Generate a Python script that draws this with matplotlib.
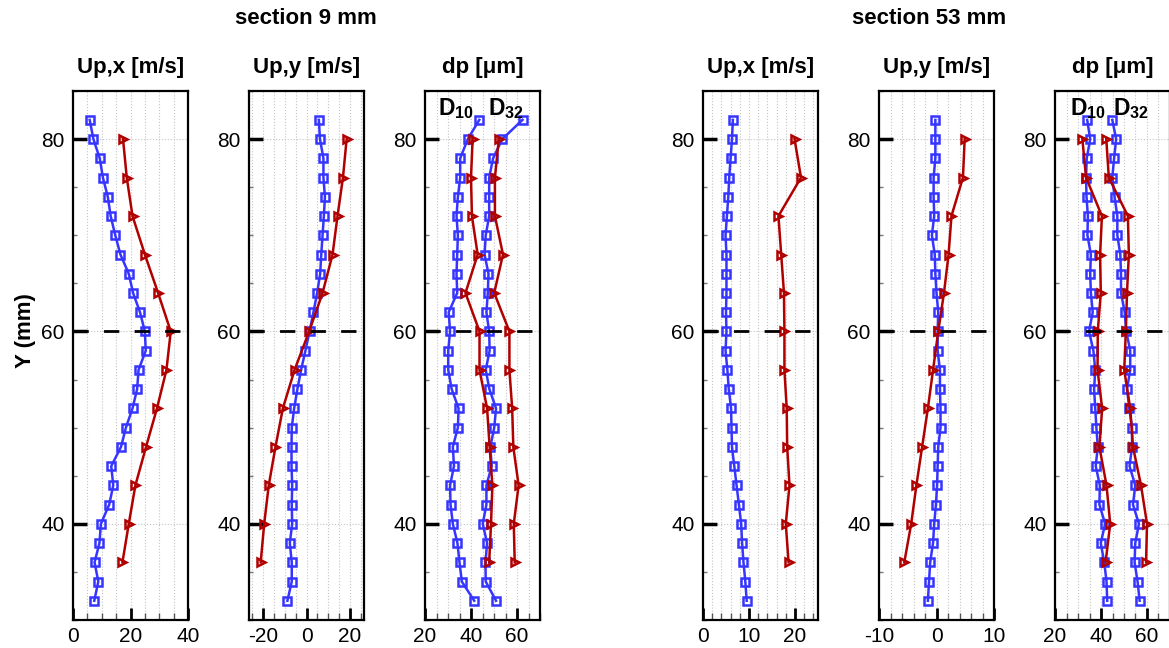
import numpy as np
import matplotlib.pyplot as plt
from matplotlib.ticker import MultipleLocator

plt.rcParams['font.family'] = ['Liberation Sans', 'DejaVu Sans']
plt.rcParams['mathtext.fontset'] = 'custom'
plt.rcParams['mathtext.rm'] = 'Liberation Sans'
plt.rcParams['mathtext.bf'] = 'Liberation Sans:bold'
plt.rcParams['axes.unicode_minus'] = False

# measurement heights (mm)
y_fine = [82, 80, 78, 76, 74, 72, 70, 68, 66, 64, 62, 60, 58,
          56, 54, 52, 50, 48, 46, 44, 42, 40, 38, 36, 34, 32]
y_coarse = [80, 76, 72, 68, 64, 60, 56, 52, 48, 44, 40, 36]

# section 9 mm
s9_upx_blue = [5.8, 7.1, 9.3, 10.4, 12.1, 13.1, 14.7, 16.5, 19.4, 20.9, 23.3, 25.0, 25.3,
               22.8, 22.3, 20.7, 18.4, 16.7, 13.3, 14.0, 12.6, 9.7, 9.2, 7.5, 8.8, 7.4]
s9_upx_red = [17.4, 18.7, 20.7, 25.0, 29.6, 34.0, 32.5, 29.2, 25.4, 21.7, 19.4, 17.2]
s9_upy_blue = [5.7, 6.2, 7.8, 7.8, 8.5, 8.0, 7.4, 6.8, 6.3, 4.9, 3.2, 1.4, -0.5,
               -2.5, -4.2, -5.7, -6.8, -6.9, -6.9, -6.6, -6.8, -6.6, -7.7, -6.8, -6.8, -8.8]
s9_upy_red = [18.5, 16.8, 14.3, 12.0, 7.4, 1.2, -5.5, -10.9, -14.3, -17.4, -19.5, -21.1]
s9_d10_blue = [43.6, 38.6, 35.3, 35.3, 34.3, 33.7, 34.3, 34.0, 33.7, 34.0, 30.3, 30.9, 30.1,
               30.1, 31.6, 34.6, 34.3, 32.1, 32.6, 30.9, 31.1, 32.1, 34.1, 35.0, 36.0, 41.4]
s9_d32_blue = [62.4, 53.6, 49.6, 47.9, 47.9, 47.9, 46.4, 45.9, 47.6, 47.3, 46.7, 47.9, 48.1,
               46.4, 48.0, 50.9, 50.1, 48.4, 49.0, 46.7, 46.7, 45.1, 47.0, 46.3, 46.4, 50.9]
s9_d10_red = [40.7, 40.0, 40.4, 42.9, 37.6, 43.7, 43.7, 47.0, 48.1, 49.3, 48.7, 47.9]
s9_d32_red = [52.1, 50.4, 50.4, 53.9, 50.1, 56.7, 56.7, 57.9, 58.4, 60.7, 58.6, 59.0]

# section 53 mm
s53_upx_blue = [6.5, 6.3, 6.0, 5.7, 5.5, 5.2, 4.9, 5.1, 5.1, 5.1, 5.0, 5.1, 4.9,
                5.3, 5.6, 6.1, 6.2, 6.3, 6.8, 7.3, 7.8, 8.3, 8.5, 8.8, 9.2, 9.5]
s53_upx_red = [19.9, 21.3, 16.4, 17.0, 17.6, 17.7, 17.7, 18.2, 18.3, 18.8, 18.0, 18.6]
s53_upy_blue = [-0.2, -0.2, -0.2, -0.5, -0.5, -0.4, -0.8, -0.3, -0.2, 0.0, 0.3, 0.2, 0.2,
                0.6, 0.6, 0.7, 0.7, 0.3, 0.2, 0.1, -0.1, -0.4, -0.6, -1.1, -1.3, -1.5]
s53_upy_red = [4.9, 4.6, 2.6, 2.1, 1.3, 0.3, -0.6, -1.5, -2.5, -3.5, -4.4, -5.6]
s53_d10_blue = [34.0, 35.3, 33.8, 33.5, 33.7, 34.3, 34.1, 35.6, 35.3, 35.6, 36.4, 34.8, 36.7,
                37.5, 37.0, 37.5, 38.0, 38.6, 37.7, 39.5, 39.3, 41.8, 39.9, 41.4, 42.4, 42.7]
s53_d32_blue = [44.9, 46.6, 45.7, 44.9, 45.9, 47.1, 47.1, 48.4, 48.7, 48.7, 50.3, 51.0, 52.7,
                52.7, 51.3, 52.3, 53.5, 53.5, 52.4, 54.9, 53.9, 56.5, 54.9, 54.6, 55.9, 56.8]
s53_d10_red = [31.9, 33.5, 40.4, 39.6, 39.9, 38.6, 38.5, 40.5, 39.3, 42.4, 44.0, 42.0]
s53_d32_red = [42.3, 43.4, 51.7, 52.1, 51.3, 50.8, 50.1, 52.7, 53.9, 57.4, 60.0, 59.6]

blue = '#3535ff'
red = '#b00000'
W, H = 1169, 648

fig = plt.figure(figsize=(W / 100, H / 100), dpi=100)

panels = [
    (73, (0, 40), 20, 5, 'Up,x [m/s]', [s9_upx_blue], [s9_upx_red]),
    (249, (-26.5, 26.5), 20, 5, 'Up,y [m/s]', [s9_upy_blue], [s9_upy_red]),
    (425, (20, 70), 20, 5, 'dp [μm]', [s9_d10_blue, s9_d32_blue], [s9_d10_red, s9_d32_red]),
    (703, (0, 25), 10, 2, 'Up,x [m/s]', [s53_upx_blue], [s53_upx_red]),
    (879, (-10, 10), 10, 2, 'Up,y [m/s]', [s53_upy_blue], [s53_upy_red]),
    (1055, (20, 70), 20, 5, 'dp [μm]', [s53_d10_blue, s53_d32_blue], [s53_d10_red, s53_d32_red]),
]

top, bot, pw = 91, 620, 115
for i, (left, xl, major, minor, title, blues, reds) in enumerate(panels):
    ax = fig.add_axes([left / W, (H - bot) / H, pw / W, (bot - top) / H])
    for xs in blues:
        ax.plot(xs, y_fine, '-s', color=blue, mfc='none', mec=blue, ms=6, mew=1.8, lw=1.8)
    for xs in reds:
        ax.plot(xs, y_coarse, '->', color=red, mfc='none', mec=red, ms=6, mew=1.8, lw=1.8)
    ax.axhline(60, color='black', lw=2, ls=(0, (5.5, 5.5)), zorder=4)
    ax.set_xlim(*xl)
    ax.set_ylim(30, 85)
    ax.xaxis.set_major_locator(MultipleLocator(major))
    ax.xaxis.set_minor_locator(MultipleLocator(minor))
    ax.yaxis.set_major_locator(MultipleLocator(20))
    ax.yaxis.set_minor_locator(MultipleLocator(5))
    ax.grid(True, which='both', axis='x', color='#c4c4c4', ls=':', lw=0.8)
    ax.grid(True, which='major', axis='y', color='#c4c4c4', ls=':', lw=0.8)
    ax.set_axisbelow(True)
    ax.tick_params(axis='y', which='major', direction='in', length=10, width=2.5,
                   labelsize=15, pad=6)
    ax.tick_params(axis='y', which='minor', direction='in', length=3, width=1, color='#777777')
    ax.tick_params(axis='x', which='major', direction='in', length=9, width=2,
                   labelsize=15, pad=5)
    ax.tick_params(axis='x', which='minor', direction='in', length=5, width=1, color='#555555')
    for sp in ax.spines.values():
        sp.set_linewidth(1.6)
    fig.text((left + pw / 2) / W, 1 - 68 / H, title, ha='center', va='center',
             fontsize=16, fontweight='bold')
    if len(blues) == 2:
        xs_lab = (0.27, 0.70) if i == 2 else (0.29, 0.66)
        ax.text(xs_lab[0], 0.99, r'$\mathbf{D_{10}}$', transform=ax.transAxes,
                ha='center', va='top', fontsize=16.5)
        ax.text(xs_lab[1], 0.99, r'$\mathbf{D_{32}}$', transform=ax.transAxes,
                ha='center', va='top', fontsize=16.5)

fig.text(306 / W, 1 - 18 / H, 'section 9 mm', ha='center', va='center',
         fontsize=16, fontweight='bold')
fig.text(929 / W, 1 - 18 / H, 'section 53 mm', ha='center', va='center',
         fontsize=16, fontweight='bold')
fig.text(25 / W, 1 - 331 / H, 'Y (mm)', rotation=90, ha='center', va='center',
         fontsize=16, fontweight='bold')

fig.savefig('out.png', dpi=100)
